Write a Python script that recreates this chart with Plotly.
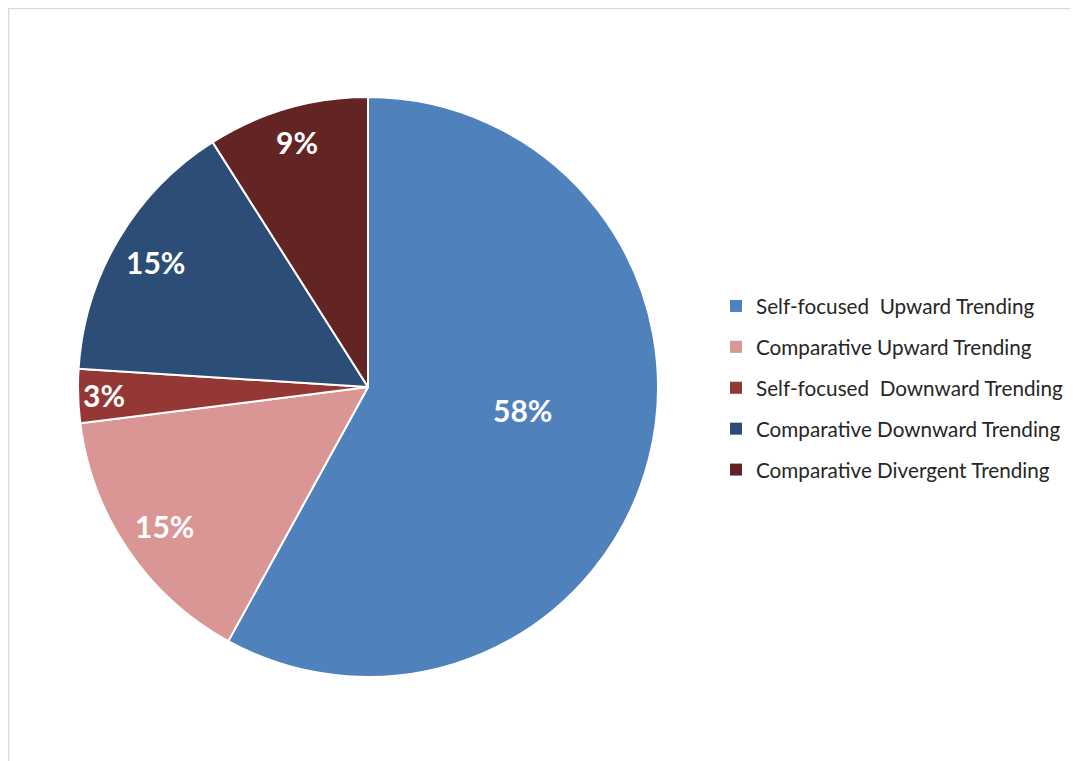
import math
import plotly.graph_objects as go

categories = [
    "Self-focused\u00a0 Upward Trending",
    "Comparative Upward Trending",
    "Self-focused\u00a0 Downward Trending",
    "Comparative Downward Trending",
    "Comparative Divergent Trending",
]
values = [58, 15, 3, 15, 9]
labels = ["58%", "15%", "3%", "15%", "9%"]
colors = ["#4F81BD", "#D99694", "#953735", "#2C4D75", "#632523"]
label_radius = [0.54, 0.85, 0.91, 0.85, 0.88]
label_angle_offset = [-6, 0, 0, 0, 0]  # degrees

W, H = 1070, 753
cx, cy, R = 360, 379, 290  # pixel centre (from top) and radius

fig = go.Figure()
fig.add_trace(go.Pie(
    labels=categories, values=values, sort=False, direction="clockwise",
    rotation=0, marker=dict(colors=colors, line=dict(color="white", width=2)),
    textinfo="none", showlegend=False, hoverinfo="label+percent",
    domain=dict(x=[(cx - R) / W, (cx + R) / W], y=[1 - (cy + R) / H, 1 - (cy - R) / H]),
))

for cat, col in zip(categories, colors):
    fig.add_trace(go.Scatter(
        x=[None], y=[None], mode="markers", name=cat, legendgroup=cat,
        marker=dict(symbol="square", size=10, color=col), showlegend=True,
    ))

total = sum(values)
cum = 0
for v, lab, rf, off in zip(values, labels, label_radius, label_angle_offset):
    mid = (cum + v / 2) / total * 2 * math.pi + math.radians(off)
    cum += v
    px = cx + rf * R * math.sin(mid)
    py = cy - rf * R * math.cos(mid)
    fig.add_annotation(x=px / W, y=1 - py / H, xref="paper", yref="paper",
                       xanchor="center", yanchor="middle",
                       text=f"<b>{lab}</b>", showarrow=False,
                       font=dict(family="Lato, Open Sans, sans-serif", size=30, color="white"))

fig.add_shape(type="rect", xref="paper", yref="paper",
              x0=0.5 / W, x1=1.05, y0=-0.05, y1=1 - 0.5 / H,
              line=dict(color="#d9d9d9", width=1.5))

fig.update_layout(
    width=W, height=H, margin=dict(l=0, r=0, t=0, b=0),
    paper_bgcolor="white", plot_bgcolor="white",
    xaxis=dict(visible=False), yaxis=dict(visible=False),
    legend=dict(x=708 / W, y=1 - 278 / H, xanchor="left", yanchor="top",
                tracegroupgap=11, itemsizing="constant",
                font=dict(family="Lato, sans-serif", size=20.7, color="#262626"),
                bgcolor="rgba(0,0,0,0)"),
)

fig.write_html("out.html")
